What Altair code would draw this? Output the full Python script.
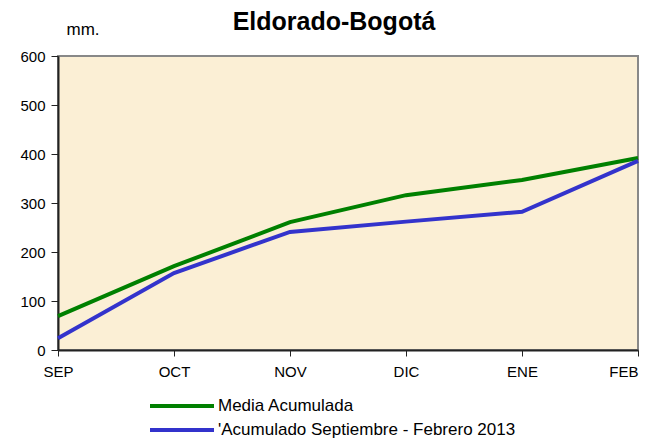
import altair as alt
import pandas as pd

months = ["SEP", "OCT", "NOV", "DIC", "ENE", "FEB"]
media = [69, 171, 261, 316, 347, 392]
acumulado = [24, 157, 241, 262, 282, 386]
series_names = ["Media Acumulada", "'Acumulado  Septiembre - Febrero  2013"]
colors = ["#008000", "#3333CC"]

rows = []
for m, v in zip(months, media):
    rows.append({"mes": m, "mm": v, "serie": series_names[0]})
for m, v in zip(months, acumulado):
    rows.append({"mes": m, "mm": v, "serie": series_names[1]})
df = pd.DataFrame(rows)

font = "Liberation Sans"

chart = alt.Chart(df).mark_line(strokeWidth=4).encode(
    x=alt.X("mes:N", sort=months,
            scale=alt.Scale(type="point", padding=0),
            axis=alt.Axis(title=None, labelAngle=0, labelFontSize=15, labelFont=font,
                          labelColor="black", domainColor="#222222", domainWidth=2,
                          labelAlign={"expr": "datum.value == 'FEB' ? 'right' : 'center'"},
                          labelBound=False,
                          tickColor="#222222", tickSize=6, labelPadding=8,
                          grid=False)),
    y=alt.Y("mm:Q", scale=alt.Scale(domain=[0, 600], nice=False),
            axis=alt.Axis(values=[0, 100, 200, 300, 400, 500, 600], title="mm.",
                          titleAngle=0, titleAlign="left", titleBaseline="bottom",
                          titleX=8, titleY=-18, titleFont=font, titleFontSize=17,
                          titleFontWeight="normal", titleColor="black",
                          labelFontSize=15, labelFont=font, labelColor="black",
                          domainColor="#222222", domainWidth=2, tickColor="#222222",
                          tickSize=7, labelPadding=6, grid=False)),
    color=alt.Color("serie:N", sort=series_names,
                    scale=alt.Scale(domain=series_names, range=colors),
                    legend=alt.Legend(title=None, orient="none", legendX=114, legendY=340,
                                      symbolType="M-4,0L4,0", symbolSize=256,
                                      symbolStrokeWidth=4, labelFont=font,
                                      labelFontSize=17, labelColor="black",
                                      labelLimit=0, rowPadding=6, labelOffset=26)),
).properties(
    width=580, height=294,
    background="white",
    padding={"left": 50, "top": 48, "right": 9, "bottom": 88},
    autosize=alt.AutoSizeParams(type="none"),
    title=alt.Title("Eldorado-Bogotá", font=font, fontSize=25, fontWeight="bold",
                    color="black", anchor="middle", dx=-14, offset=-15),
).configure_view(
    fill="#FBEFD5", stroke="#888888", strokeWidth=2
)

chart.save("out.html", embed_options={"renderer": "svg", "actions": False})
